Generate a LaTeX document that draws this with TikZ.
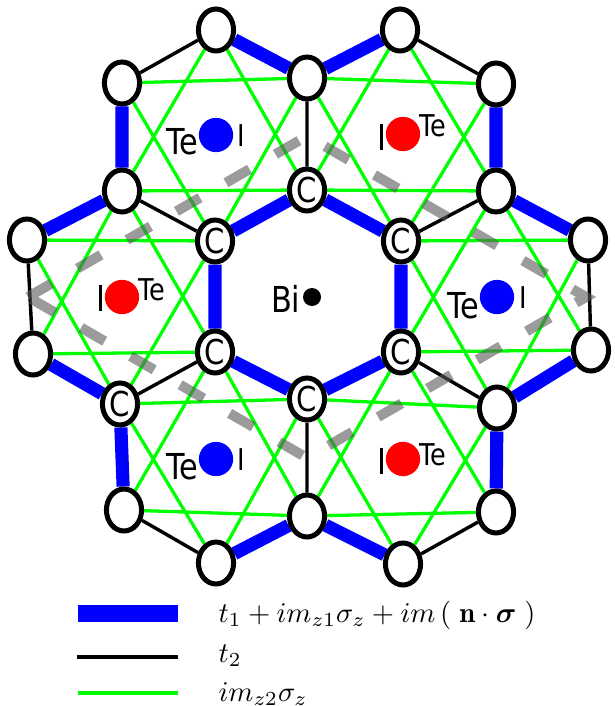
\documentclass[tikz,border=0pt]{standalone}
\usepackage{amsmath}
\usepackage{fontspec}
\usetikzlibrary{shapes.geometric,backgrounds}
\newfontfamily\atomfont[FakeStretch=0.85]{DejaVu Sans}

\tikzset{
  site/.style={ellipse, draw, line width=1.75pt, fill=white, minimum width=12.3pt,
    minimum height=14.7pt, inner sep=0pt, font=\atomfont\fontsize{12}{12}\selectfont},
  hopA/.style={blue, line width=4.6pt},
  hopB/.style={black, line width=1.2pt},
  hopC/.style={green, line width=1.15pt},
  cell/.style={black!65, opacity=0.6, line width=3.5pt, dash pattern=on 9.5pt off 10.5pt},
  lblbig/.style={font=\atomfont\fontsize{12.5}{12}\selectfont, inner sep=0pt},
  lblsmall/.style={font=\atomfont\fontsize{10.5}{10}\selectfont, inner sep=0pt},
  atom/.style={circle, inner sep=0pt, minimum size=12pt},
  legend/.style={anchor=base west, inner sep=0pt, font=\fontsize{10}{12}\selectfont},
}

\begin{document}
\begin{tikzpicture}[x=0.35pt, y=-0.35pt]
    \useasboundingbox (0,0) rectangle (614,706);

    % Central hexagon
    \node[site] (cT)  at (307,190) {C};
    \node[site] (cUR) at (401,241) {C};
    \node[site] (cLR) at (401,352) {C};
    \node[site] (cB)  at (307,399) {C};
    \node[site] (cLL) at (215,352) {C};
    \node[site] (cUL) at (215,241) {C};

    % Outer ring
    \node[site] (o1)  at (307,78)  {};
    \node[site] (o2)  at (400,30)  {};
    \node[site] (o3)  at (496,84)  {};
    \node[site] (o4)  at (496,191) {};
    \node[site] (o5)  at (588,240) {};
    \node[site] (o6)  at (591,350) {};
    \node[site] (o7)  at (497,408) {};
    \node[site] (o8)  at (496,512) {};
    \node[site] (o9)  at (403,564) {};
    \node[site] (o10) at (307,516) {};
    \node[site] (o11) at (216,563) {};
    \node[site] (o12) at (124,510) {};
    \node[site] (o13) at (120,404) {C};
    \node[site] (o14) at (33,354)  {};
    \node[site] (o15) at (27,240)  {};
    \node[site] (o16) at (122,191) {};
    \node[site] (o17) at (122,83)  {};
    \node[site] (o18) at (216,30)  {};

    % Unit cell corners
    \coordinate (uL) at (28,297);
    \coordinate (uT) at (307,136);
    \coordinate (uR) at (586,297);
    \coordinate (uB) at (307,458);

    \begin{pgfonlayer}{background}
    % Second neighbours
    \foreach \a/\b/\c/\d/\e/\f in {o2/o3/o4/cUR/cT/o1, o4/o5/o6/o7/cLR/cUR,
        cLR/o7/o8/o9/o10/cB, cLL/cB/o10/o11/o12/o13, o16/cUL/cLL/o13/o14/o15,
        o18/o1/cT/cUL/o16/o17}
      \draw[hopC] (\a) -- (\c) (\c) -- (\e) (\e) -- (\a)
                  (\b) -- (\d) (\d) -- (\f) (\f) -- (\b);

    % First neighbours
    \draw[hopA] (cT) -- (cUR) -- (cLR) -- (cB) -- (cLL) -- (cUL) -- (cT);
    \draw[hopB] (cT) -- (o1) (cUR) -- (o4) (cLR) -- (o7)
                (cB) -- (o10) (cLL) -- (o13) (cUL) -- (o16);
    \draw[hopB] (o2) -- (o3) (o5) -- (o6) (o8) -- (o9)
                (o11) -- (o12) (o14) -- (o15) (o17) -- (o18);
    \draw[hopA] (o18) -- (o1) -- (o2) (o3) -- (o4) -- (o5) (o6) -- (o7) -- (o8)
                (o9) -- (o10) -- (o11) (o12) -- (o13) -- (o14) (o15) -- (o16) -- (o17);

    % Unit cell
    \draw[cell] (uL) -- (uT) -- (uR) -- (uB) -- cycle;
    \end{pgfonlayer}

    % Atoms
    \node[atom, fill=blue] (a1) at (216,135) {};
    \node[lblbig, anchor=base east] (a1l) at (199,155) {Te};
    \node[lblsmall, anchor=base west] (a1r) at (237,146) {I};

    \node[atom, fill=red] (a2) at (403,134) {};
    \node[lblbig, anchor=base east] (a2l) at (387,151) {I};
    \node[lblsmall, anchor=base west] (a2r) at (419,137) {Te};

    \node[atom, fill=red] (a3) at (122,297) {};
    \node[lblbig, anchor=base east] (a3l) at (106,311) {I};
    \node[lblsmall, anchor=base west] (a3r) at (138,300) {Te};

    \node[atom, fill=blue] (a4) at (497,297) {};
    \node[lblbig, anchor=base east] (a4l) at (480,318) {Te};
    \node[lblsmall, anchor=base west] (a4r) at (519,308) {I};

    \node[atom, fill=blue] (a5) at (216,459) {};
    \node[lblbig, anchor=base east] (a5l) at (199,479) {Te};
    \node[lblsmall, anchor=base west] (a5r) at (237,470) {I};

    \node[atom, fill=red] (a6) at (403,459) {};
    \node[lblbig, anchor=base east] (a6l) at (387,474) {I};
    \node[lblsmall, anchor=base west] (a6r) at (419,465) {Te};

    \node[atom, fill=black, minimum size=6.3pt] (bi) at (312,297) {};
    \node[lblbig, anchor=base east] (bil) at (301,312) {Bi};

    % Legend
    \coordinate (kA0) at (78,613.5);  \coordinate (kA1) at (178,613.5);
    \coordinate (kB0) at (77,657);    \coordinate (kB1) at (178,657);
    \coordinate (kC0) at (78,693);    \coordinate (kC1) at (178,693);
    \draw[blue, line width=6pt] (kA0) -- (kA1);
    \draw[hopB] (kB0) -- (kB1);
    \draw[hopC] (kC0) -- (kC1);
    \node[legend] (lgA) at (218,622)
      {$t_1+im_{z1}\sigma_z+im\,(\;\mathbf{n}\cdot\boldsymbol{\sigma}\;)$};
    \node[legend] (lgB) at (218,662) {$t_2$};
    \node[legend] (lgC) at (218,701) {$im_{z2}\sigma_z$};
\end{tikzpicture}
\end{document}
